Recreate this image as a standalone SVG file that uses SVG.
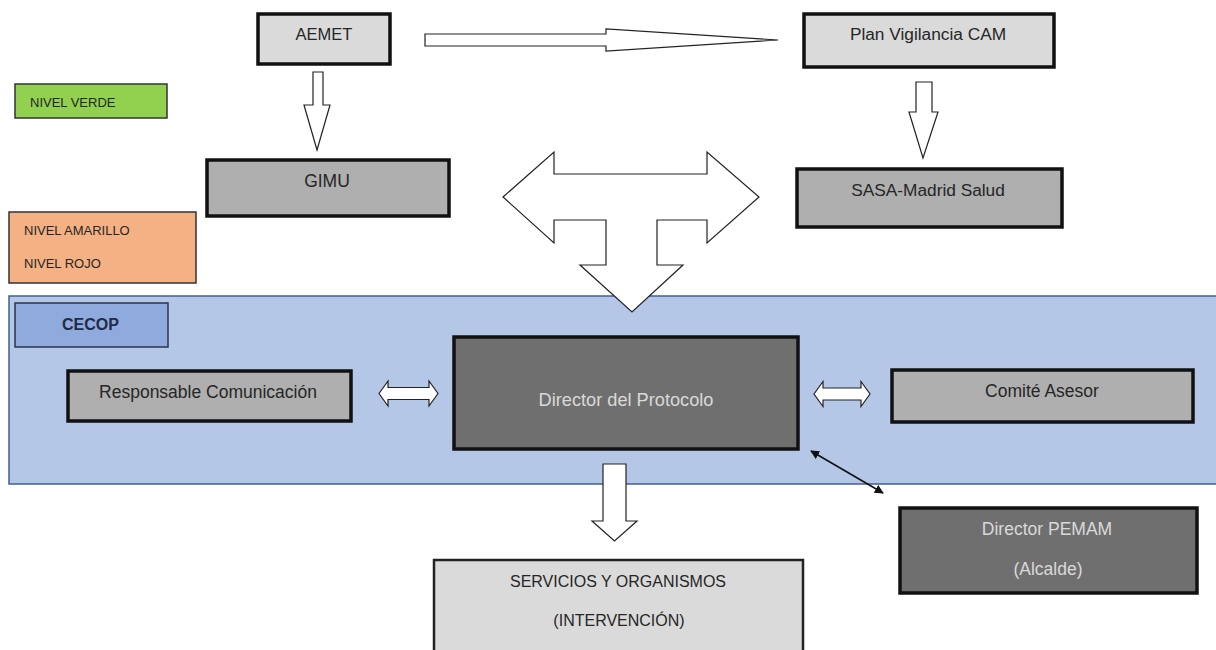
<svg xmlns="http://www.w3.org/2000/svg" width="1216" height="650" viewBox="0 0 1216 650">
<defs>
<style>
.t{font-family:"Liberation Sans",Arial,sans-serif;fill:#262626;text-anchor:middle}
.lt{font-family:"Liberation Sans",Arial,sans-serif;fill:#d9d9d9;text-anchor:middle}
.lv{font-family:"Liberation Sans",Arial,sans-serif;fill:#262626;font-size:13px}
.light{fill:#dadada;stroke:#111;stroke-width:3.5}
.mid{fill:#afafaf;stroke:#111;stroke-width:3.5}
.dark{fill:#6f6f6f;stroke:#111;stroke-width:3.5}
.blk{fill:#fff;stroke:#222;stroke-width:1.2;stroke-linejoin:miter}
</style>
<marker id="ah" viewBox="0 0 10 10" refX="9" refY="5" markerWidth="9" markerHeight="9" markerUnits="userSpaceOnUse" orient="auto-start-reverse">
<path d="M0,0 L10,5 L0,10 Z" fill="#111"/>
</marker>
</defs>
<rect width="1216" height="650" fill="#fff"/>
<g id="cecop-area">
<rect x="9" y="296" width="1220" height="188" fill="#b4c7e7" stroke="#41608f" stroke-width="1.5"/>
</g>
<g id="connectors">
<polygon class="blk" points="425,34 606,34 606,29 778,40 606,51 606,46 425,46"/>
<polygon class="blk" points="313,72 323,72 323,105 330,105 317,150 304,105 313,105"/>
<polygon class="blk" points="916,82 932,82 932,112 938,112 923,158 909,112 916,112"/>
<polygon class="blk" points="503,197 554,152 554,174 707,174 707,152 759,197 707,243 707,220 657,220 657,265 683,265 632,312 580,265 606,265 606,220 554,220 554,243"/>
<polygon class="blk" points="379,393.5 388,381 388,387.5 429,387.5 429,381 438,393.5 429,406 429,399.5 388,399.5 388,406"/>
<polygon class="blk" points="814,394 823,381.5 823,388 861,388 861,381.5 870,394 861,406.5 861,400 823,400 823,406.5"/>
<polygon class="blk" points="603,464 626,464 626,521 637,521 614.5,541 592,521 603,521"/>
<line x1="811" y1="451" x2="883" y2="493" stroke="#111" stroke-width="1.6" marker-start="url(#ah)" marker-end="url(#ah)"/>
</g>
<g id="nivel-verde">
<rect x="15" y="84" width="152" height="34" fill="#92d050" stroke="#333" stroke-width="1.5"/>
<text class="lv" x="30" y="107">NIVEL VERDE</text>
</g>
<g id="nivel-amarillo-rojo">
<rect x="9" y="212" width="187" height="71" fill="#f4b183" stroke="#333" stroke-width="1.5"/>
<text class="lv" x="24" y="235">NIVEL AMARILLO</text>
<text class="lv" x="24" y="268">NIVEL ROJO</text>
</g>
<g id="aemet">
<rect class="light" x="258" y="14" width="132" height="50"/>
<text class="t" x="324" y="40" font-size="16.5">AEMET</text>
</g>
<g id="plan-vigilancia">
<rect class="light" x="804" y="14" width="250" height="53"/>
<text class="t" x="928" y="40" font-size="17.3">Plan Vigilancia CAM</text>
</g>
<g id="gimu">
<rect class="mid" x="207" y="160" width="242" height="56"/>
<text class="t" x="327" y="187" font-size="17.5">GIMU</text>
</g>
<g id="sasa">
<rect class="mid" x="797" y="169" width="265" height="58"/>
<text class="t" x="928" y="196" font-size="17.3">SASA-Madrid Salud</text>
</g>
<g id="cecop-label">
<rect x="15" y="303" width="153" height="44" fill="#8faadc" stroke="#2a3550" stroke-width="1.5"/>
<text x="62" y="330" font-family="Liberation Sans,Arial,sans-serif" font-weight="bold" font-size="16" fill="#1f2b47">CECOP</text>
</g>
<g id="responsable">
<rect class="mid" x="68" y="371" width="283" height="50"/>
<text class="t" x="208" y="398" font-size="17.5">Responsable Comunicación</text>
</g>
<g id="director-protocolo">
<rect class="dark" x="454" y="337" width="344" height="112"/>
<text class="lt" x="626" y="406" font-size="18.2">Director del Protocolo</text>
</g>
<g id="comite">
<rect class="mid" x="892" y="370" width="301" height="52"/>
<text class="t" x="1042" y="397" font-size="17.5">Comité Asesor</text>
</g>
<g id="director-pemam">
<rect class="dark" x="900" y="508" width="297" height="85"/>
<text class="lt" x="1047" y="535" font-size="17.5">Director PEMAM</text>
<text class="lt" x="1048" y="575" font-size="17.5">(Alcalde)</text>
</g>
<g id="servicios">
<rect x="434" y="560" width="369" height="100" fill="#dadada" stroke="#222" stroke-width="2.5"/>
<text class="t" x="618" y="587" font-size="16">SERVICIOS Y ORGANISMOS</text>
<text class="t" x="619" y="626" font-size="16">(INTERVENCIÓN)</text>
</g>
</svg>
